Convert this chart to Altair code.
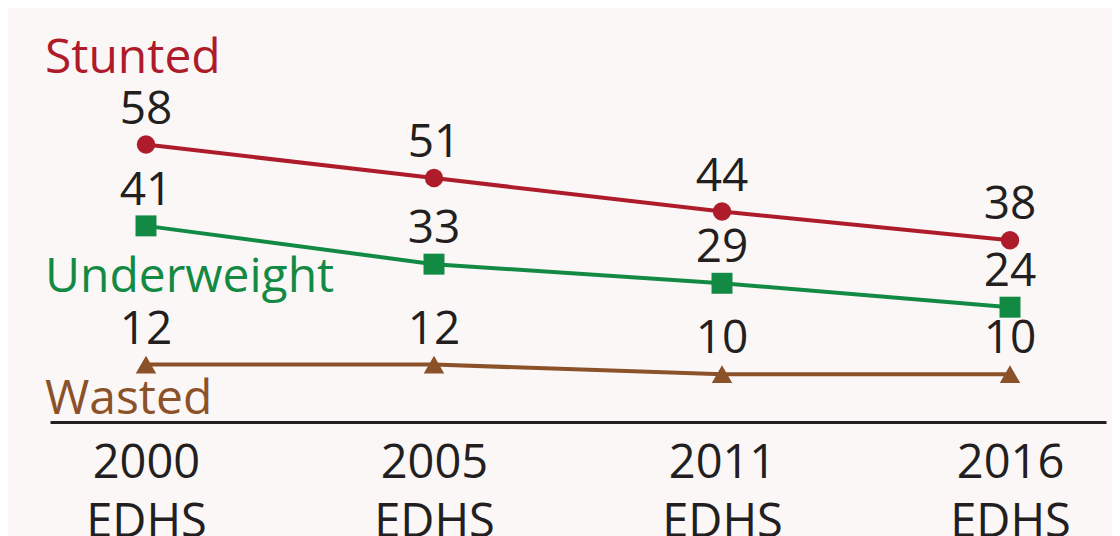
import altair as alt
import pandas as pd

surveys = ["2000 EDHS", "2005 EDHS", "2011 EDHS", "2016 EDHS"]
stunted = [58, 51, 44, 38]
underweight = [41, 33, 29, 24]
wasted = [12, 12, 10, 10]
series_names = ["Stunted", "Underweight", "Wasted"]

colors = {"Stunted": "#ae1c2c", "Underweight": "#138a44", "Wasted": "#8b522a"}
shapes = {"Stunted": "circle", "Underweight": "square", "Wasted": "triangle-up"}
sizes = {"Stunted": 340, "Underweight": 440, "Wasted": 420}
name_offsets = {"Stunted": (-101, -72), "Underweight": (-101, 66), "Wasted": (-101, 49)}

rows = []
for name, vals in zip(series_names, [stunted, underweight, wasted]):
    for s, v in zip(surveys, vals):
        rows.append({"survey": s, "value": v, "series": name})
df = pd.DataFrame(rows)

FONT = "Open Sans"
TXT = "#231f20"

x_enc = alt.X(
    "survey:N",
    sort=surveys,
    scale=alt.Scale(type="point", padding=0.3333),
    axis=alt.Axis(
        title=None,
        labelExpr="split(datum.label, ' ')",
        labelFont=FONT,
        labelFontSize=47,
        labelColor=TXT,
        labelLineHeight=59,
        labelBaseline="alphabetic",
        labelPadding=55,
        labelAngle=0,
        ticks=False,
        domainColor=TXT,
        domainWidth=3,
        grid=False,
    ),
)
y_enc = alt.Y("value:Q", scale=alt.Scale(domain=[0, 60], nice=False, zero=True), axis=None)

layers = []
for name in series_names:
    sub = df[df.series == name]
    base = alt.Chart(sub)
    layers.append(base.mark_line(color=colors[name], strokeWidth=4).encode(x=x_enc, y=y_enc))
    layers.append(
        base.mark_point(shape=shapes[name], filled=True, color=colors[name], size=sizes[name], opacity=1).encode(
            x=x_enc, y=y_enc
        )
    )
    layers.append(
        base.mark_text(font=FONT, fontSize=46, color=TXT, dy=-21, baseline="alphabetic", align="center").encode(
            x=x_enc, y=y_enc, text="value:Q"
        )
    )
    first = sub[sub.survey == surveys[0]]
    dx, dy = name_offsets[name]
    layers.append(
        alt.Chart(first)
        .mark_text(font=FONT, fontSize=48, color=colors[name], dx=dx, dy=dy, baseline="alphabetic", align="left")
        .encode(x=x_enc, y=y_enc, text="series:N")
    )

chart = (
    alt.layer(*layers)
    .properties(
        width=1056,
        height=287,
        autosize=alt.AutoSizeParams(type="none"),
        padding={"left": 42, "top": 127, "right": 6, "bottom": 114},
        background="#fbf7f6",
    )
    .configure_view(stroke=None)
)

chart.save("out.html", embed_options={"renderer": "svg", "actions": False})
